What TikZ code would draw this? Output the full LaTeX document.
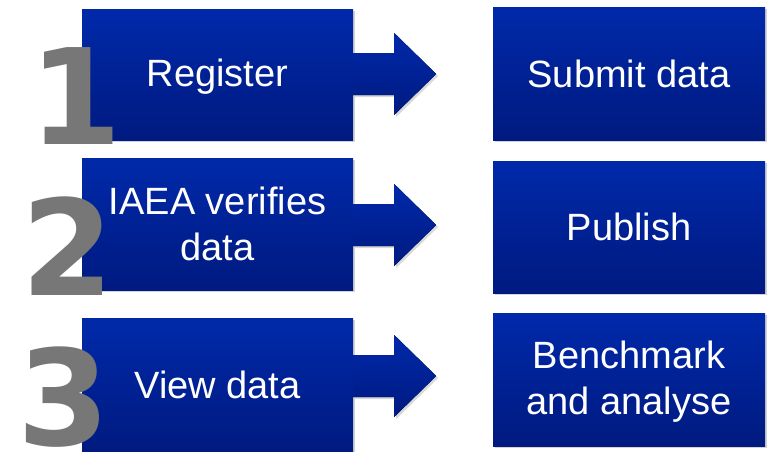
\documentclass[tikz,border=0pt]{standalone}
\usepackage{fontspec}
\setmainfont{Liberation Sans}
\newfontfamily\numfont{DejaVu Sans}
\usetikzlibrary{shadows}
\definecolor{boxtop}{HTML}{0029AA}
\definecolor{boxbot}{HTML}{001A80}
\definecolor{numgrey}{HTML}{777777}
\tikzset{
  stepbox/.style={rectangle, inner sep=0pt, top color=boxtop, bottom color=boxbot, draw=none,
    drop shadow={opacity=0.35, shadow xshift=2pt, shadow yshift=-2pt}},
  boxtext/.style={text=white, font=\fontsize{38}{46}\selectfont, align=center},
  bignum/.style={text=numgrey, font=\numfont\bfseries\fontsize{133}{133}\selectfont, anchor=base, inner sep=0pt},
  arrowshape/.style={top color=boxtop, bottom color=boxbot, draw=none,
    drop shadow={opacity=0.3, shadow xshift=2pt, shadow yshift=-2pt}}
}
\newcommand\rowarrow[2]{%
  \fill[arrowshape] (#1.east |- 0,#2) ++(0,21) -- ++(41,0) -- ++(0,20) -- ++(42,-41) -- ++(-42,-41) -- ++(0,20) -- ++(-41,0) -- cycle;}
\begin{document}
\begin{tikzpicture}[x=1pt,y=1pt]
\useasboundingbox (0,0) rectangle (767,-451);
% left boxes
\node[stepbox, minimum width=271pt, minimum height=131pt] (l1) at (217.5,-74.5) {};
\node[stepbox, minimum width=271pt, minimum height=132pt] (l2) at (217.5,-224) {};
\node[stepbox, minimum width=271pt, minimum height=133pt] (l3) at (217.5,-384.5) {};
% right boxes
\node[stepbox, minimum width=272pt, minimum height=133pt] (r1) at (629,-73.5) {};
\node[stepbox, minimum width=272pt, minimum height=132pt] (r2) at (629,-227) {};
\node[stepbox, minimum width=272pt, minimum height=133pt] (r3) at (629,-379.5) {};
% arrows
\rowarrow{l1}{-74}
\rowarrow{l2}{-225}
\rowarrow{l3}{-376}
% texts
\node[boxtext] (t1) at ([yshift=-2pt]l1.center) {Register};
\node[boxtext] (t2) at (l2) {IAEA verifies\\data};
\node[boxtext] (t3) at (l3) {View data};
\node[boxtext] (s1) at (r1) {Submit data};
\node[boxtext] (s2) at (r2) {Publish};
\node[boxtext] (s3) at ([yshift=-2pt]r3.center) {Benchmark\\and analyse};
% numbers
\node[bignum] (n1) at (76,-144) {1};
\node[bignum] (n2) at (68,-295) {2};
\node[bignum] (n3) at (64,-445) {3};
\end{tikzpicture}
\end{document}
